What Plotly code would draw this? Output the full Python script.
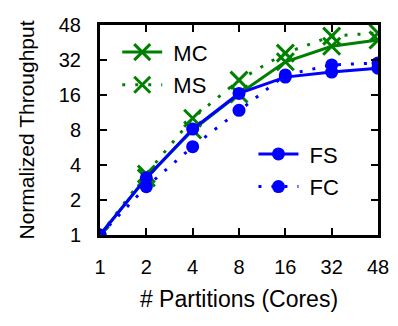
import plotly.graph_objects as go

# x categories (cores) and tick labels
cores = ["1", "2", "4", "8", "16", "32", "48"]
y_tickvals = [1, 2, 4, 8, 16, 32, 64]
y_ticktext = ["1", "2", "4", "8", "16", "32", "48"]

# normalized throughput
mc = [1, 3.1, 8.0, 16.3, 30.9, 42.0, 47.5]
ms = [1, 3.35, 10.1, 21.5, 36.7, 51.4, 54.6]
fs = [1, 3.1, 8.15, 16.5, 22.8, 25.2, 27.2]
fc = [1, 2.6, 5.75, 11.8, 23.8, 29.0, 30.2]

GREEN = "#008000"
BLUE = "#0000ff"
FONT = "Liberation Sans, Arial, Helvetica, sans-serif"
NB = "\u00a0"

fig = go.Figure()

fig.add_trace(go.Scatter(
    x=cores, y=mc, name=NB + "MC", mode="lines+markers", legend="legend", legendgroup="mc",
    line=dict(color=GREEN, width=3),
    marker=dict(symbol="x-thin-open", size=17, line=dict(color=GREEN, width=3)),
))
fig.add_trace(go.Scatter(
    x=cores, y=ms, name=NB + "MS", mode="lines+markers", legend="legend", legendgroup="ms",
    line=dict(color=GREEN, width=3, dash="3px,10px"),
    marker=dict(symbol="x-thin-open", size=17, line=dict(color=GREEN, width=3)),
))
fig.add_trace(go.Scatter(
    x=cores, y=fs, name=NB + "FS", mode="lines+markers", legend="legend2", legendgroup="fs",
    line=dict(color=BLUE, width=3),
    marker=dict(symbol="circle", size=13, color=BLUE),
))
fig.add_trace(go.Scatter(
    x=cores, y=fc, name=NB + "FC", mode="lines+markers", legend="legend2", legendgroup="fc",
    line=dict(color=BLUE, width=3, dash="3px,10px"),
    marker=dict(symbol="circle", size=13, color=BLUE),
))

axis_common = dict(
    showline=True, linecolor="black", linewidth=3, mirror="ticks",
    ticks="inside", ticklen=7, tickwidth=1.5, tickcolor="black",
    showgrid=False, zeroline=False, automargin=False,
    tickfont=dict(family=FONT, size=20, color="black"),
)

# page body has an 8px margin, so the figure is a bit smaller than the window
fig.update_layout(
    width=390, height=318,
    margin=dict(l=92, r=20, t=17, b=91),
    paper_bgcolor="white", plot_bgcolor="white",
    font=dict(family=FONT, size=19, color="black"),
    xaxis=dict(
        type="category", range=[0, 6],
        ticklabelstandoff=12,
        title=dict(text="# Partitions (Cores)", font=dict(size=23), standoff=14),
        **axis_common,
    ),
    yaxis=dict(
        type="log", range=[0, 1.80618],
        tickvals=y_tickvals, ticktext=y_ticktext,
        ticklabelstandoff=12,
        title=dict(text="Normalized Throughput", font=dict(size=21), standoff=19),
        **axis_common,
    ),
    legend=dict(
        x=0.062, y=0.97, xanchor="left", yanchor="top",
        bgcolor="rgba(0,0,0,0)", itemwidth=40, tracegroupgap=1,
        font=dict(family=FONT, size=22),
    ),
    legend2=dict(
        x=0.552, y=0.485, xanchor="left", yanchor="top",
        bgcolor="rgba(0,0,0,0)", itemwidth=40, tracegroupgap=1,
        font=dict(family=FONT, size=22),
    ),
)

fig.write_html("out.html")
